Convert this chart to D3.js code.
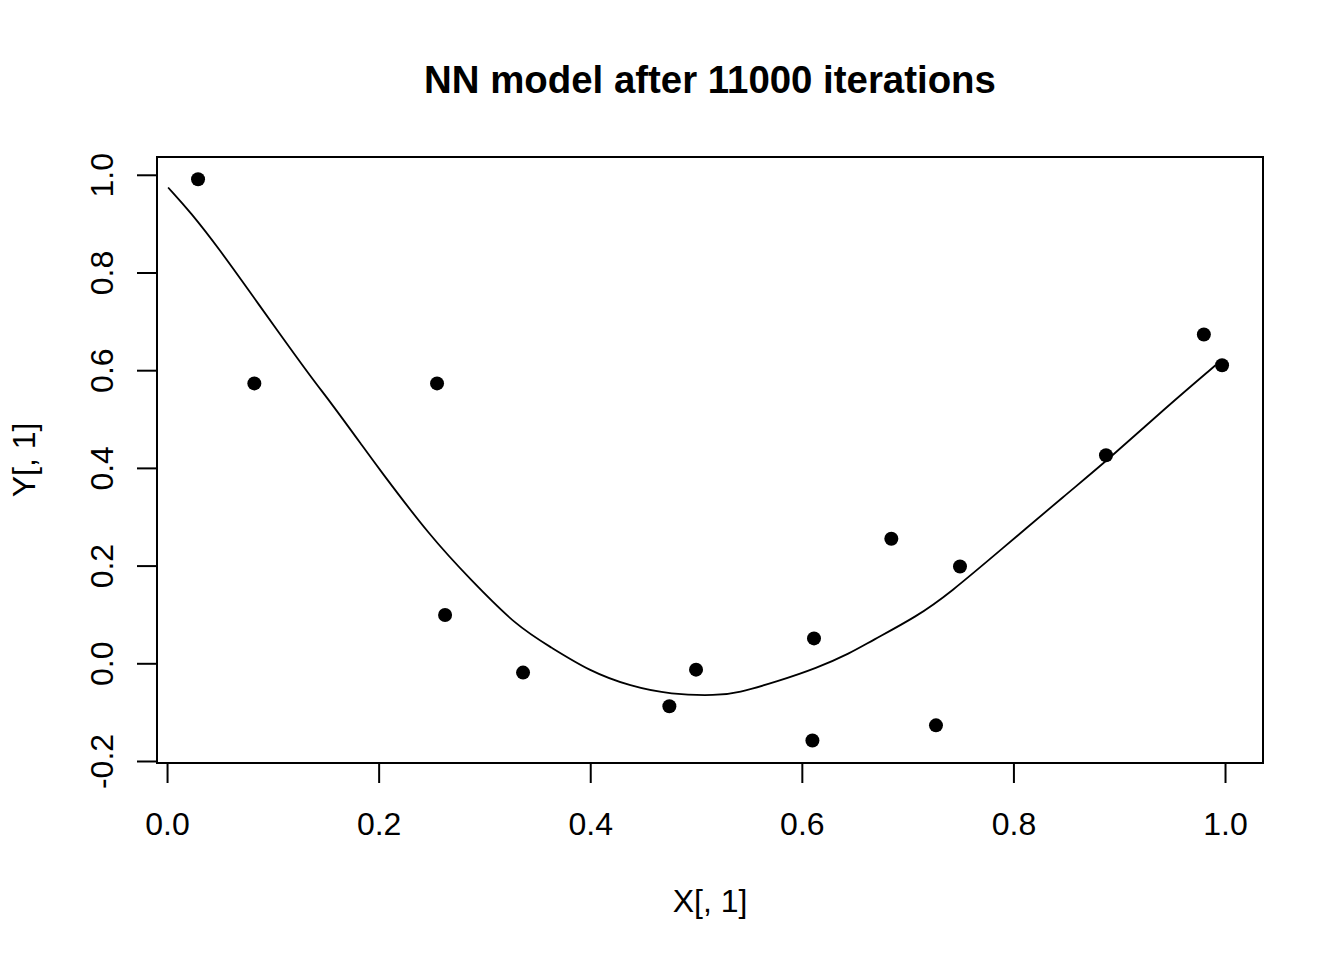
<!DOCTYPE html>
<html>
<head>
<meta charset="utf-8">
<script src="https://cdn.jsdelivr.net/npm/d3@7"></script>
<style>
  body { margin: 0; background: #fff; }
  text { font-family: "Liberation Sans", Arial, sans-serif; }
</style>
</head>
<body>
<div id="chart"></div>
<script>
// observed data points
const pointX = [0.0293, 0.0825, 0.2552, 0.2628, 0.3365, 0.4748, 0.5000, 0.6100,
                0.6115, 0.6846, 0.7268, 0.7495, 0.8875, 0.9800, 0.9972];
const pointY = [0.991, 0.573, 0.573, 0.099, -0.019, -0.088, -0.013, -0.158,
                0.051, 0.255, -0.127, 0.198, 0.426, 0.673, 0.610];

// fitted NN curve
const curveX = [0.001, 0.022, 0.050, 0.079, 0.104, 0.138, 0.153, 0.186, 0.199, 0.249,
                0.287, 0.331, 0.362, 0.400, 0.438, 0.476, 0.520, 0.539, 0.577, 0.614,
                0.646, 0.665, 0.709, 0.740, 0.788, 0.851, 0.889, 0.945, 0.991];
const curveY = [0.974, 0.924, 0.846, 0.758, 0.682, 0.580, 0.539, 0.441, 0.402, 0.259,
                0.171, 0.075, 0.034, -0.017, -0.047, -0.064, -0.066, -0.061, -0.037, -0.010,
                0.021, 0.045, 0.096, 0.144, 0.232, 0.348, 0.416, 0.525, 0.610];

const xTicks = [0, 0.2, 0.4, 0.6, 0.8, 1.0];
const yTicks = [-0.2, 0, 0.2, 0.4, 0.6, 0.8, 1.0];

const title = 'NN model after 11000 iterations';
const xLabel = 'X[, 1]';
const yLabel = 'Y[, 1]';

let W = 1344, H = 960;
let mL = 157, mR = 1263, mT = 157, mB = 763;

// R style labels use a plain hyphen for negatives
let fmt = d => d.toFixed(1);

let svg = d3.select('#chart')
    .append('svg')
        .attr('width', W)
        .attr('height', H);

svg.append('rect')
    .attr('width', W).attr('height', H)
    .attr('fill', '#fff');

const x = d3.scaleLinear()
    .domain([-0.0095, 1.0359])
    .range([mL, mR]);

const y = d3.scaleLinear()
    .domain([-0.2041, 1.0364])
    .range([mB, mT]);

// x axis
let gx = svg.append('g')
    .attr('transform', `translate(0, ${mB})`)
    .call(d3.axisBottom(x)
        .tickValues(xTicks)
        .tickSize(20)
        .tickSizeOuter(0)
        .tickFormat(fmt));
gx.select('.domain').remove();
gx.selectAll('line').attr('stroke', '#000').attr('stroke-width', 2);
gx.selectAll('text')
    .attr('y', 72).attr('dy', 0)
    .attr('fill', '#000')
    .style('font-size', '32px');

// y axis
let gy = svg.append('g')
    .attr('transform', `translate(${mL}, 0)`)
    .call(d3.axisLeft(y)
        .tickValues(yTicks)
        .tickSize(20)
        .tickSizeOuter(0)
        .tickFormat(fmt));
gy.select('.domain').remove();
gy.selectAll('line').attr('stroke', '#000').attr('stroke-width', 2);
gy.selectAll('text')
    .attr('x', 0).attr('y', 0).attr('dy', 0)
    .attr('text-anchor', 'middle')
    .attr('transform', 'translate(-44,0) rotate(-90)')
    .attr('fill', '#000')
    .style('font-size', '32px');

// box
svg.append('rect')
    .attr('x', mL).attr('y', mT)
    .attr('width', mR - mL).attr('height', mB - mT)
    .attr('fill', 'none')
    .attr('stroke', '#000')
    .attr('stroke-width', 2);

// curve
let curve = curveX.map((v, i) => [v, curveY[i]]);
svg.append('path')
    .datum(curve)
    .attr('d', d3.line()
        .x(d => x(d[0]))
        .y(d => y(d[1]))
        .curve(d3.curveBasis))
    .attr('fill', 'none')
    .attr('stroke', '#000')
    .attr('stroke-width', 1.8);

// points
let pts = pointX.map((v, i) => [v, pointY[i]]);
svg.selectAll('circle.pt')
    .data(pts).enter()
    .append('circle')
    .attr('class', 'pt')
    .attr('cx', d => x(d[0]))
    .attr('cy', d => y(d[1]))
    .attr('r', 7)
    .attr('fill', '#000');

// labels
svg.append('text')
    .attr('x', (mL + mR) / 2)
    .attr('y', 93)
    .attr('text-anchor', 'middle')
    .style('font-size', '38.4px')
    .style('font-weight', 'bold')
    .text(title);

svg.append('text')
    .attr('x', (mL + mR) / 2)
    .attr('y', 912)
    .attr('text-anchor', 'middle')
    .style('font-size', '32px')
    .text(xLabel);

svg.append('text')
    .attr('transform', `translate(35, ${(mT + mB) / 2}) rotate(-90)`)
    .attr('text-anchor', 'middle')
    .style('font-size', '32px')
    .text(yLabel);
</script>
</body>
</html>
